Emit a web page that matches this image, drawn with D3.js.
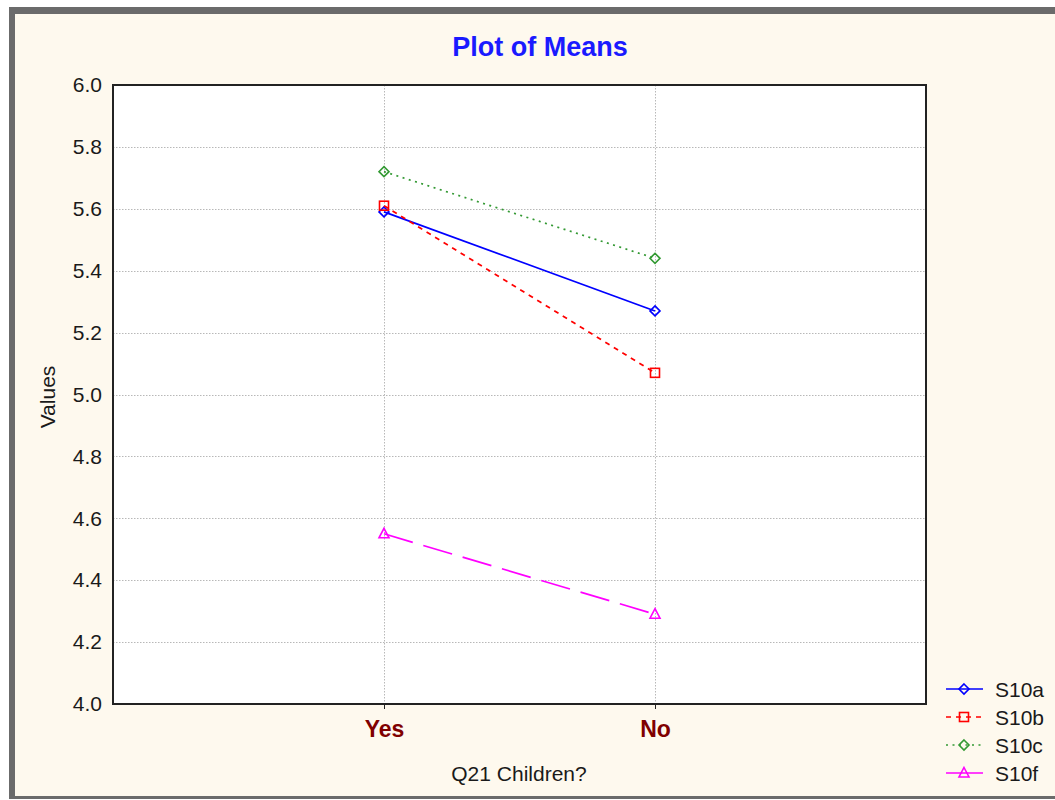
<!DOCTYPE html>
<html>
<head>
<meta charset="utf-8">
<script src="https://cdn.jsdelivr.net/npm/d3@7"></script>
<style>
  body { margin: 0; background: #fff; }
  svg { display: block; font-family: Arial, "Liberation Sans", sans-serif; }
</style>
</head>
<body>
<svg width="1055" height="800"></svg>
<script>
// data
var categories = ["Yes", "No"];
var seriesNames = ["S10a", "S10b", "S10c", "S10f"];
var s10a = [5.59, 5.27];
var s10b = [5.61, 5.07];
var s10c = [5.72, 5.44];
var s10f = [4.55, 4.29];
var yTicks = [4.0, 4.2, 4.4, 4.6, 4.8, 5.0, 5.2, 5.4, 5.6, 5.8, 6.0];

var series = [
  { name: seriesNames[0], values: s10a, color: "#0000ff", dash: null, symbol: "diamond" },
  { name: seriesNames[1], values: s10b, color: "#ff0000", dash: "5,5", symbol: "square" },
  { name: seriesNames[2], values: s10c, color: "#339933", dash: "2,4.5", symbol: "diamond" },
  { name: seriesNames[3], values: s10f, color: "#ff00ff", dash: "30,11", symbol: "triangle" }
];

var svg = d3.select("svg");

// window frame
svg.append("rect").attr("x", 0).attr("y", 0).attr("width", 1055).attr("height", 800).attr("fill", "#fff");
svg.append("rect").attr("x", 9).attr("y", 7).attr("width", 1046).attr("height", 792).attr("fill", "#6b6b6b");
svg.append("rect").attr("x", 15).attr("y", 14).attr("width", 1040).attr("height", 782).attr("fill", "#fef9ee");

var margin = { left: 113, top: 85, right: 926, bottom: 704 };

var x = d3.scalePoint().domain(categories).range([margin.left, margin.right]).padding(1);
var y = d3.scaleLinear().domain([4, 6]).range([margin.bottom, margin.top]);

// plot area
svg.append("rect")
  .attr("x", margin.left).attr("y", margin.top)
  .attr("width", margin.right - margin.left).attr("height", margin.bottom - margin.top)
  .attr("fill", "#fff");

// grid
var grid = svg.append("g").attr("stroke", "#b8b8b8").attr("stroke-dasharray", "1.5,1.5").attr("stroke-width", 1);
grid.selectAll(".hg").data(yTicks.slice(1, -1)).enter().append("line")
  .attr("x1", margin.left).attr("x2", margin.right)
  .attr("y1", function(d) { return Math.round(y(d)) + 0.5; })
  .attr("y2", function(d) { return Math.round(y(d)) + 0.5; });
grid.selectAll(".vg").data(categories).enter().append("line")
  .attr("y1", margin.top).attr("y2", margin.bottom)
  .attr("x1", function(d) { return Math.round(x(d)) + 0.5; })
  .attr("x2", function(d) { return Math.round(x(d)) + 0.5; });

// axes
var yAxis = svg.append("g")
  .attr("transform", "translate(" + margin.left + ",0)")
  .call(d3.axisLeft(y).tickValues(yTicks).tickFormat(d3.format(".1f")).tickSize(0).tickPadding(11));
yAxis.select(".domain").remove();
yAxis.selectAll("text").attr("font-size", 21).attr("fill", "#1a1a1a").attr("font-family", "Arial, 'Liberation Sans', sans-serif");

var xAxis = svg.append("g")
  .attr("transform", "translate(0," + margin.bottom + ")")
  .call(d3.axisBottom(x).tickSize(5).tickPadding(12));
xAxis.select(".domain").remove();
xAxis.selectAll("line").attr("stroke", "#222");
xAxis.selectAll("text").attr("font-size", 23).attr("font-weight", "bold").attr("fill", "#800000")
  .attr("font-family", "Arial, 'Liberation Sans', sans-serif");

// frame
svg.append("rect")
  .attr("x", margin.left).attr("y", margin.top)
  .attr("width", margin.right - margin.left).attr("height", margin.bottom - margin.top)
  .attr("fill", "none").attr("stroke", "#222").attr("stroke-width", 2);

// titles
svg.append("text").attr("x", 540).attr("y", 56).attr("text-anchor", "middle")
  .attr("font-size", 27).attr("font-weight", "bold").attr("fill", "#1a1aff").text("Plot of Means");
svg.append("text").attr("x", 519).attr("y", 781).attr("text-anchor", "middle")
  .attr("font-size", 21).attr("fill", "#1a1a1a").text("Q21 Children?");
svg.append("text").attr("transform", "translate(55,397) rotate(-90)").attr("text-anchor", "middle")
  .attr("font-size", 21).attr("fill", "#1a1a1a").text("Values");

// marker shapes
function marker(g, symbol, color) {
  if (symbol === "diamond") {
    g.append("path").attr("d", "M0,-5L5,0L0,5L-5,0Z");
  } else if (symbol === "square") {
    g.append("rect").attr("x", -4.5).attr("y", -4.5).attr("width", 9).attr("height", 9);
  } else {
    g.append("path").attr("d", "M0,-5.5L5,4L-5,4Z");
  }
  g.selectAll("*").attr("fill", "none").attr("stroke", color).attr("stroke-width", 1.6);
}

var line = d3.line()
  .x(function(d, i) { return x(categories[i]); })
  .y(function(d) { return y(d); });

series.forEach(function(s) {
  svg.append("path")
    .attr("d", line(s.values))
    .attr("fill", "none")
    .attr("stroke", s.color)
    .attr("stroke-width", 1.7)
    .attr("stroke-dasharray", s.dash);
  s.values.forEach(function(v, i) {
    var g = svg.append("g").attr("transform", "translate(" + x(categories[i]) + "," + y(v) + ")");
    marker(g, s.symbol, s.color);
  });
});

// legend
var legend = svg.append("g").attr("transform", "translate(946,689)");
series.forEach(function(s, i) {
  var row = legend.append("g").attr("transform", "translate(0," + i * 28 + ")");
  row.append("line").attr("x1", 0).attr("x2", 37).attr("y1", 0).attr("y2", 0)
    .attr("stroke", s.color).attr("stroke-width", 1.7)
    .attr("stroke-dasharray", s.symbol === "triangle" ? null : s.dash);
  marker(row.append("g").attr("transform", "translate(18,0)"), s.symbol, s.color);
  row.append("text").attr("x", 49).attr("y", 8).attr("font-size", 21).attr("fill", "#1a1a1a").text(s.name);
});
</script>
</body>
</html>
